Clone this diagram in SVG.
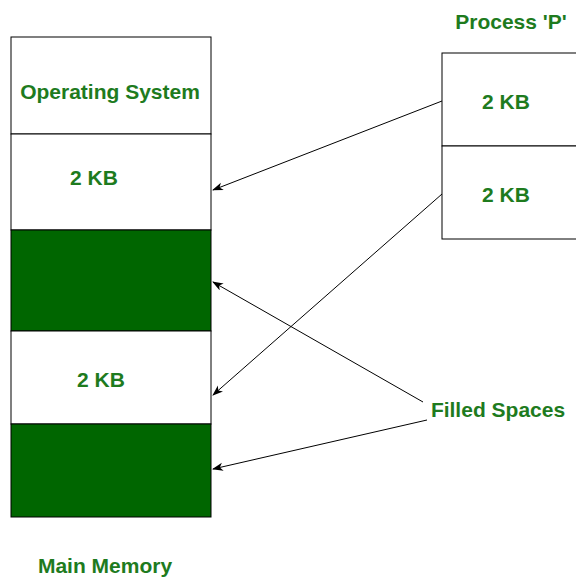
<svg xmlns="http://www.w3.org/2000/svg" width="576" height="578" viewBox="0 0 576 578">
<style>
.box{fill:#ffffff;stroke:#000000;stroke-width:1}
.fill{fill:#006600;stroke:#000000;stroke-width:1}
.t{font-family:"Liberation Sans",Arial,sans-serif;font-weight:bold;font-size:21px;fill:#1e7b1e;text-anchor:middle}
.c{fill:none;stroke:#000000;stroke-width:1}
</style>
<defs>
<marker id="arr" markerWidth="12" markerHeight="10" refX="10" refY="4" orient="auto" markerUnits="userSpaceOnUse">
<path d="M0,0 L11,4 L0,8 L3,4 Z" fill="#000000"/>
</marker>
</defs>
<g id="main-memory">
<g id="os"><rect class="box" x="11" y="37" width="200" height="97"/><text class="t" x="110" y="99">Operating System</text></g>
<g id="mm-2kb-1"><rect class="box" x="11" y="134" width="200" height="96"/><text class="t" x="94" y="185">2 KB</text></g>
<g id="filled-1"><rect class="fill" x="11" y="230" width="200" height="101"/></g>
<g id="mm-2kb-2"><rect class="box" x="11" y="331" width="200" height="93"/><text class="t" x="101" y="387">2 KB</text></g>
<g id="filled-2"><rect class="fill" x="11" y="424" width="200" height="93"/></g>
<text id="main-memory-label" class="t" x="105" y="573">Main Memory</text>
</g>
<g id="process-p">
<text class="t" x="511" y="29">Process 'P'</text>
<g id="p-2kb-1"><rect class="box" x="442" y="53" width="140" height="93"/><text class="t" x="506" y="109">2 KB</text></g>
<g id="p-2kb-2"><rect class="box" x="442" y="146" width="140" height="93"/><text class="t" x="506" y="202">2 KB</text></g>
</g>
<g id="filled-spaces"><text class="t" x="498" y="417">Filled Spaces</text></g>
<g id="connectors">
<line class="c" x1="442" y1="101" x2="213" y2="190" marker-end="url(#arr)"/>
<line class="c" x1="442" y1="194" x2="213" y2="395" marker-end="url(#arr)"/>
<line class="c" x1="423" y1="402" x2="213" y2="282" marker-end="url(#arr)"/>
<line class="c" x1="427" y1="420" x2="213" y2="469" marker-end="url(#arr)"/>
</g>
</svg>
